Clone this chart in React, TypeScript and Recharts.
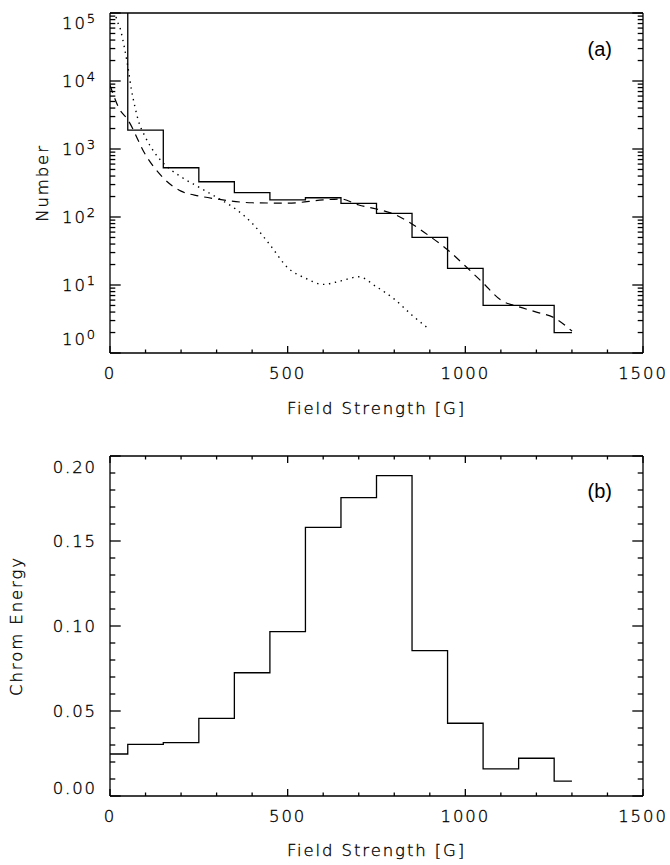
import React from 'react';
import { LineChart, Line, XAxis, YAxis } from 'recharts';

// ---------- data ----------
const binCenters = [0, 100, 200, 300, 400, 500, 600, 700, 800, 900, 1000, 1100, 1200, 1300];
const numberCounts = [200000, 1900, 530, 330, 228, 178, 192, 159, 113, 50, 17.6, 5, 5, 2];
const chromEnergy = [0.0247, 0.0304, 0.0314, 0.0457, 0.0725, 0.0967, 0.158, 0.1755, 0.1884, 0.0855, 0.0428, 0.0159, 0.0222, 0.0088];

const dashedX = [0, 25, 50, 100, 150, 200, 250, 300, 400, 500, 600, 650, 700, 750, 800, 850, 900, 950, 1000, 1050, 1100, 1150, 1200, 1250, 1300];
const dashedY = [8700, 4000, 2700, 820, 375, 240, 204, 184, 162, 160, 178, 184, 150, 131, 110, 79, 52, 33, 19, 10.7, 6, 4.8, 4.0, 3.3, 2.1];

const dottedX = [10, 15, 30, 40, 50, 60, 70, 80, 100, 125, 150, 200, 250, 300, 350, 400, 450, 500, 550, 600, 650, 700, 750, 800, 850, 900];
const dottedY = [160000, 100000, 56000, 32000, 16600, 7600, 4200, 2600, 1480, 890, 620, 390, 275, 195, 135, 81, 39, 18, 12.6, 10.2, 11.5, 13.2, 9.4, 6.2, 3.6, 2.2];

// ---------- ticks ----------
const xMajorTicks = [0, 500, 1000, 1500];
const xTicks = [0, 100, 200, 300, 400, 500, 600, 700, 800, 900, 1000, 1100, 1200, 1300, 1400, 1500];
const yLogMajor = [1, 10, 100, 1000, 10000, 100000];
const energyMajor = [0, 0.05, 0.1, 0.15, 0.2];

const yLogTicks: number[] = [];
yLogMajor.forEach((d, i) => {
  if (i < yLogMajor.length - 1) {
    for (let k = 1; k <= 9; k++) yLogTicks.push(k * d);
  } else yLogTicks.push(d);
});
const energyTicks: number[] = [];
for (let i = 0; i <= 20; i++) energyTicks.push(Math.round(i) / 100);

const histData = binCenters.map((x, i) => ({ x, y: numberCounts[i] }));
const dashedData = dashedX.map((x, i) => ({ x, y: dashedY[i] }));
const dottedData = dottedX.map((x, i) => ({ x, y: dottedY[i] }));
const energyData = binCenters.map((x, i) => ({ x, y: chromEnergy[i] }));

// ---------- style ----------
const FONT = "'DejaVu Sans', 'Liberation Sans', sans-serif";
const INK = '#000';
const SW = 1.3;
const TXT = {
  fontFamily: FONT,
  fontWeight: 200,
  fontSize: 16.5,
  letterSpacing: 1.9,
  fill: INK,
  stroke: INK,
  strokeWidth: 0.35,
};

const isMajorX = (v: number) => xMajorTicks.includes(v);
const isMajorE = (v: number) => energyMajor.some((m) => Math.abs(m - v) < 1e-9);
const isMajorLog = (v: number) => Math.abs(Math.log10(v) - Math.round(Math.log10(v))) < 1e-9;

const XBottomTick = (props: any) => {
  const { x, y, payload } = props;
  const v = payload.value;
  const major = isMajorX(v);
  return (
    <g>
      <line x1={x} x2={x} y1={y} y2={y - (major ? 7 : 3.5)} stroke={INK} strokeWidth={SW} />
      {major && (
        <text x={x} y={y + 26} textAnchor="middle" {...TXT}>
          {v}
        </text>
      )}
    </g>
  );
};

const XTopTick = (props: any) => {
  const { x, y, payload } = props;
  const major = isMajorX(payload.value);
  return <line x1={x} x2={x} y1={y} y2={y + (major ? 7 : 3.5)} stroke={INK} strokeWidth={SW} />;
};

const LogLeftTick = (props: any) => {
  const { x, y, payload } = props;
  const v = payload.value;
  const major = isMajorLog(v);
  const exp = Math.round(Math.log10(v));
  let dy = 6;
  if (v === yLogMajor[0]) dy -= 14;
  if (v === yLogMajor[yLogMajor.length - 1]) dy += 9.5;
  return (
    <g>
      <line x1={x} x2={x + (major ? 10.7 : 5.3)} y1={y} y2={y} stroke={INK} strokeWidth={SW} />
      {major && (
        <text x={x - 13} y={y + dy} textAnchor="end" {...TXT}>
          <tspan>10</tspan>
          <tspan dy={-6} fontSize={13}>{exp}</tspan>
        </text>
      )}
    </g>
  );
};

const LogRightTick = (props: any) => {
  const { x, y, payload } = props;
  const major = isMajorLog(payload.value);
  return <line x1={x} x2={x - (major ? 10.7 : 5.3)} y1={y} y2={y} stroke={INK} strokeWidth={SW} />;
};

const ELeftTick = (props: any) => {
  const { x, y, payload } = props;
  const v = payload.value;
  const major = isMajorE(v);
  let dy = 6;
  if (Math.abs(v - energyMajor[0]) < 1e-9) dy -= 8.5;
  if (Math.abs(v - energyMajor[energyMajor.length - 1]) < 1e-9) dy += 11;
  return (
    <g>
      <line x1={x} x2={x + (major ? 10.7 : 5.3)} y1={y} y2={y} stroke={INK} strokeWidth={SW} />
      {major && (
        <text x={x - 13} y={y + dy} textAnchor="end" {...TXT}>
          {v.toFixed(2)}
        </text>
      )}
    </g>
  );
};

const ERightTick = (props: any) => {
  const { x, y, payload } = props;
  const major = isMajorE(payload.value);
  return <line x1={x} x2={x - (major ? 10.7 : 5.3)} y1={y} y2={y} stroke={INK} strokeWidth={SW} />;
};

const axisLine = { stroke: INK, strokeWidth: SW };

const xLabel = (cy: number) => () => (
  <text x={376.5} y={cy} textAnchor="middle" {...TXT}>
    Field Strength [G]
  </text>
);

const yLabel = (text: string, bx: number, cy: number) => () => (
  <text x={bx} y={cy} transform={`rotate(-90, ${bx}, ${cy})`} textAnchor="middle" {...TXT}>
    {text}
  </text>
);

const panelTag = (text: string, y: number) => () => (
  <text x={612} y={y} textAnchor="end" fontFamily="'Liberation Sans', Arial, sans-serif" fontSize={20} fill={INK}>
    {text}
  </text>
);

export default function App() {
  return (
    <div style={{ position: 'absolute', left: 0, top: 0, width: 670, height: 865, background: '#fff' }}>
      <div style={{ position: 'absolute', left: 0, top: 0 }}>
        <LineChart width={670} height={430} margin={{ top: 8, left: 60, right: 17, bottom: 47 }}>
          <XAxis
            xAxisId={0}
            type="number"
            dataKey="x"
            domain={[0, 1500]}
            ticks={xTicks}
            interval={0}
            allowDataOverflow
            height={30}
            tickSize={0}
            tickMargin={0}
            tickLine={false}
            axisLine={axisLine}
            tick={XBottomTick}
            label={{ content: xLabel(414) }}
          />
          <XAxis
            xAxisId="t"
            orientation="top"
            type="number"
            dataKey="x"
            domain={[0, 1500]}
            ticks={xTicks}
            interval={0}
            height={5}
            tickSize={0}
            tickMargin={0}
            tickLine={false}
            axisLine={axisLine}
            tick={XTopTick}
            label={{ content: panelTag('(a)', 56) }}
          />
          <YAxis
            yAxisId={0}
            scale="log"
            type="number"
            domain={[1, 100000]}
            ticks={yLogTicks}
            interval={0}
            allowDataOverflow
            width={50}
            tickSize={0}
            tickMargin={0}
            tickLine={false}
            axisLine={axisLine}
            tick={LogLeftTick}
            label={{ content: yLabel('Number', 48, 183) }}
          />
          <YAxis
            yAxisId="r"
            orientation="right"
            scale="log"
            type="number"
            domain={[1, 100000]}
            ticks={yLogTicks}
            interval={0}
            allowDataOverflow
            width={10}
            tickSize={0}
            tickMargin={0}
            tickLine={false}
            axisLine={axisLine}
            tick={LogRightTick}
          />
          <Line
            data={dottedData}
            dataKey="y"
            type="monotone"
            stroke={INK}
            strokeWidth={1.4}
            strokeDasharray="1.4 4.6"
            dot={false}
            isAnimationActive={false}
          />
          <Line
            data={dashedData}
            dataKey="y"
            type="monotone"
            stroke={INK}
            strokeWidth={1.2}
            strokeDasharray="8 6"
            dot={false}
            isAnimationActive={false}
          />
          <Line
            data={histData}
            dataKey="y"
            type="step"
            stroke={INK}
            strokeWidth={SW}
            dot={false}
            isAnimationActive={false}
          />
        </LineChart>
      </div>
      <div style={{ position: 'absolute', left: 0, top: 430 }}>
        <LineChart width={670} height={435} data={energyData} margin={{ top: 21, left: 60, right: 17, bottom: 39 }}>
          <XAxis
            xAxisId={0}
            type="number"
            dataKey="x"
            domain={[0, 1500]}
            ticks={xTicks}
            interval={0}
            allowDataOverflow
            height={30}
            tickSize={0}
            tickMargin={0}
            tickLine={false}
            axisLine={axisLine}
            tick={XBottomTick}
            label={{ content: xLabel(426) }}
          />
          <XAxis
            xAxisId="t"
            orientation="top"
            type="number"
            dataKey="x"
            domain={[0, 1500]}
            ticks={xTicks}
            interval={0}
            height={5}
            tickSize={0}
            tickMargin={0}
            tickLine={false}
            axisLine={axisLine}
            tick={XTopTick}
            label={{ content: panelTag('(b)', 68) }}
          />
          <YAxis
            yAxisId={0}
            type="number"
            domain={[0, 0.2]}
            ticks={energyTicks}
            interval={0}
            allowDataOverflow
            width={50}
            tickSize={0}
            tickMargin={0}
            tickLine={false}
            axisLine={axisLine}
            tick={ELeftTick}
            label={{ content: yLabel('Chrom Energy', 22, 196) }}
          />
          <YAxis
            yAxisId="r"
            orientation="right"
            type="number"
            domain={[0, 0.2]}
            ticks={energyTicks}
            interval={0}
            allowDataOverflow
            width={10}
            tickSize={0}
            tickMargin={0}
            tickLine={false}
            axisLine={axisLine}
            tick={ERightTick}
          />
          <Line dataKey="y" type="step" stroke={INK} strokeWidth={SW} dot={false} isAnimationActive={false} />
        </LineChart>
      </div>
    </div>
  );
}
